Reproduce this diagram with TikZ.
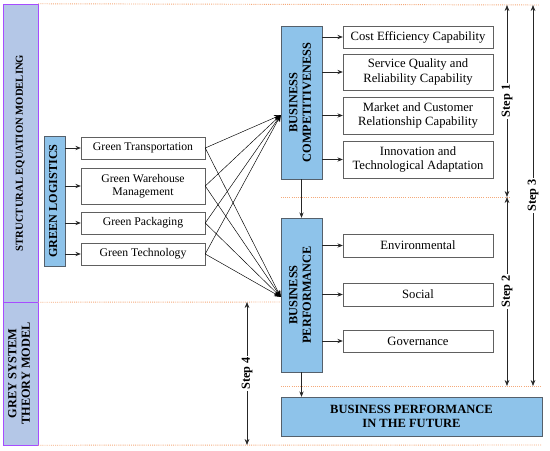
\documentclass[tikz,border=0pt]{standalone}
\usepackage{fontspec}
\setmainfont{Liberation Serif}
\usepackage{graphicx}
\usetikzlibrary{arrows.meta,positioning,calc}
\definecolor{cazul}{HTML}{8EC3EA}
\definecolor{cazulb}{HTML}{55606B}
\definecolor{clila}{HTML}{B4C7E7}
\definecolor{clilab}{HTML}{A64DFF}
\definecolor{cborde}{HTML}{606060}
\definecolor{cnaranja}{HTML}{F4A97A}
\newcommand{\vtexto}[1]{\rotatebox{90}{\begin{tabular}{@{}c@{}}#1\end{tabular}}}
\tikzset{
  caja/.style={draw=cborde,fill=white,align=center,font=\fontsize{10}{11.5}\selectfont,
               minimum width=3.72cm,inner sep=1pt},
  cajad/.style={caja,minimum width=4.5cm,font=\fontsize{10.8}{12.2}\selectfont},
  cajav/.style={draw=cazulb,fill=cazul,align=center,font=\fontsize{10.5}{11.5}\selectfont\bfseries,
                inner sep=0pt},
  lateral/.style={cajav,draw=clilab,fill=clila,minimum width=1.05cm},
  flecha/.style={-{Stealth[length=1.6mm,width=1.3mm]},draw=black!85,semithick},
  flechaf/.style={-{Stealth[length=2mm,width=1.6mm]},draw=black,thin},
  guia/.style={draw=cnaranja,densely dotted,thick},
  paso/.style={{Stealth[length=1.8mm,width=1.4mm]}-{Stealth[length=1.8mm,width=1.4mm]},draw=black!85,semithick},
  etpaso/.style={font=\fontsize{10.5}{11}\selectfont\bfseries,fill=white,rotate=90,inner sep=1.5pt},
}
\begin{document}
\begin{tikzpicture}[x=0.03cm,y=-0.03cm]
\useasboundingbox (0,0) rectangle (550,451);

% columna izquierda
\node[lateral,minimum height=8.94cm,font=\fontsize{9.1}{10}\selectfont\bfseries] (sem) at (20.5,153) {\vtexto{STRUCTURAL EQUATION MODELING}};
\node[lateral,minimum height=4.29cm] (gst) at (20.5,373.5) {\vtexto{GREY SYSTEM\\THEORY MODEL}};

% lineas guia
\draw[guia] (sem.north east) -- (540,5);
\draw[guia] (281,197) -- (510,197);
\draw[guia] (sem.south east) -- (281,302);
\draw[guia] (281,386) -- (542,386);
\draw[guia] (gst.south east) -- (542,445);

% green logistics
\node[cajav,minimum width=0.63cm,minimum height=3.9cm,font=\fontsize{10.4}{11}\selectfont\bfseries] (gl) at (54.5,201) {\vtexto{GREEN LOGISTICS}};
\node[caja,minimum height=0.66cm] (gt) at (143,148) {Green Transportation};
\node[caja,minimum height=1.08cm] (gw) at (143,186) {Green Warehouse\\Management};
\node[caja,minimum height=0.66cm] (gp) at (143,223) {Green Packaging};
\node[caja,minimum height=0.66cm] (gte) at (143,254) {Green Technology};
\foreach \n in {gt,gw,gp,gte}
  \draw[flecha] (gl.east |- \n.west) -- (\n.west);

% bloques centrales
\node[cajav,minimum width=1.23cm,minimum height=4.59cm] (bc) at (301.5,102.5) {\vtexto{BUSINESS\\COMPETITIVENESS}};
\node[cajav,minimum width=1.23cm,minimum height=4.62cm] (bp) at (301.5,295) {\vtexto{BUSINESS\\PERFORMANCE}};
\coordinate (pbc) at ($(bc.west)+(0,12.5)$);
\coordinate (pbp) at ($(bp.west)+(0,2)$);
\foreach \n in {gt,gw,gp,gte}{
  \draw[flechaf] (\n.east) -- (pbc);
  \draw[flechaf] (\n.east) -- (pbp);
}

% indicadores
\node[cajad,minimum height=0.66cm] (ce) at (418,37) {Cost Efficiency Capability};
\node[cajad,minimum height=1.08cm] (sq) at (418,72) {Service Quality and\\Reliability Capability};
\node[cajad,minimum height=1.11cm] (mc) at (418,115.5) {Market and Customer\\Relationship Capability};
\node[cajad,minimum height=1.11cm] (it) at (418,159.5) {Innovation and\\Technological Adaptation};
\node[cajad,minimum height=0.69cm] (env) at (418,245.5) {Environmental};
\node[cajad,minimum height=0.69cm] (soc) at (418,294.5) {Social};
\node[cajad,minimum height=0.66cm] (gov) at (418,341) {Governance};
\foreach \n in {ce,sq,mc,it}
  \draw[flecha] (bc.east |- \n.west) -- (\n.west);
\foreach \n in {env,soc,gov}
  \draw[flecha] (bp.east |- \n.west) -- (\n.west);

% futuro
\node[cajav,minimum width=7.83cm,minimum height=1.17cm,font=\fontsize{10.7}{12}\selectfont\bfseries] (fut) at (411.5,416.5) {BUSINESS PERFORMANCE\\IN THE FUTURE};
\draw[flecha] (bc.south) -- (bp.north);
\draw[flecha] (bp.south) -- (bp.south |- fut.north);

% pasos
\coordinate (s1a) at (507,5);
\coordinate (s1b) at (507,197);
\coordinate (s2b) at (507,386);
\coordinate (s3a) at (533,5);
\coordinate (s3b) at (533,386);
\coordinate (s4a) at (247,302);
\coordinate (s4b) at (247,445);
\draw[paso] (s1a) -- node[etpaso]{Step 1} (s1b);
\draw[paso] (s1b) -- node[etpaso]{Step 2} (s2b);
\draw[paso] (s3a) -- node[etpaso]{Step 3} (s3b);
\draw[paso] (s4a) -- node[etpaso]{Step 4} (s4b);

\end{tikzpicture}
\end{document}
